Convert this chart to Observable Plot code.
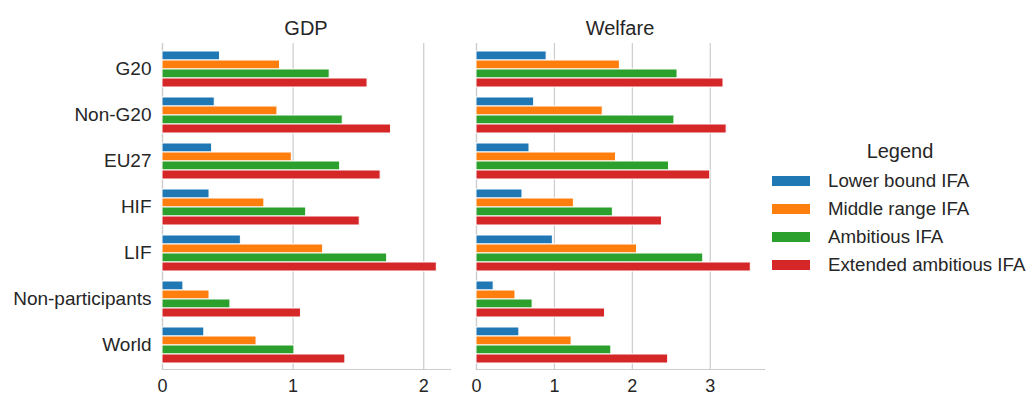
<!DOCTYPE html>
<html>
<head>
<meta charset="utf-8">
<script src="https://cdn.jsdelivr.net/npm/d3@7"></script>
<script src="https://cdn.jsdelivr.net/npm/@observablehq/plot@0.6"></script>
<style>
  html, body { margin: 0; padding: 0; background: #fff; }
  #wrap { position: relative; width: 1030px; height: 395px; font-family: "Liberation Sans", Arial, sans-serif; color: #262626; overflow: hidden; }
  .layer { position: absolute; top: 0; }
  .title { position: absolute; top: 18px; font-size: 20px; line-height: 20px; text-align: center; color: #262626; }
  #legendTitle { position: absolute; left: 770px; width: 260px; top: 141px; font-size: 20px; line-height: 20px; text-align: center; }
  #legendRows { position: absolute; left: 772px; top: 167px; display: flex; flex-direction: column; }
  .row { height: 28px; display: flex; align-items: center; font-size: 18.7px; line-height: 28px; }
  .sw { width: 38px; height: 10px; margin-right: 18px; }
</style>
</head>
<body>
<div id="wrap"></div>
<script>
const categories = ["G20", "Non-G20", "EU27", "HIF", "LIF", "Non-participants", "World"];
const series = ["Lower bound IFA", "Middle range IFA", "Ambitious IFA", "Extended ambitious IFA"];
const colors = ["#1f77b4", "#ff7f0e", "#2ca02c", "#d62728"];
const panels = ["GDP", "Welfare"];

const gdpLower     = [0.44, 0.40, 0.38, 0.36, 0.60, 0.16, 0.32];
const gdpMiddle    = [0.90, 0.88, 0.99, 0.78, 1.23, 0.36, 0.72];
const gdpAmbitious = [1.28, 1.38, 1.36, 1.10, 1.72, 0.52, 1.01];
const gdpExtended  = [1.57, 1.75, 1.67, 1.51, 2.10, 1.06, 1.40];

const welLower     = [0.90, 0.74, 0.68, 0.59, 0.98, 0.22, 0.55];
const welMiddle    = [1.84, 1.62, 1.79, 1.25, 2.06, 0.50, 1.22];
const welAmbitious = [2.58, 2.54, 2.47, 1.75, 2.91, 0.72, 1.73];
const welExtended  = [3.17, 3.21, 3.00, 2.38, 3.52, 1.65, 2.46];

const gdpTicks = [0, 1, 2];
const welTicks = [0, 1, 2, 3];

function rowsOf(lists) {
  const out = [];
  categories.forEach((c, i) => {
    series.forEach((s, j) => out.push({category: c, series: s, value: lists[j][i]}));
  });
  return out;
}

const gdpRows = rowsOf([gdpLower, gdpMiddle, gdpAmbitious, gdpExtended]);
const welRows = rowsOf([welLower, welMiddle, welAmbitious, welExtended]);

const wrap = document.getElementById("wrap");
const H = 395, MT = 43, MB = 26;
const gray = "#cccccc";

function panel(rows, ticks, opts) {
  const xmax = d3.max(rows, d => d.value) * 1.05;
  const holder = document.createElement("div");
  holder.className = "layer";
  holder.style.left = opts.left + "px";
  holder.style.width = opts.width + "px";
  holder.style.height = H + "px";
  wrap.appendChild(holder);

  const common = {
    width: opts.width, height: H,
    marginLeft: opts.ml, marginRight: opts.mr, marginTop: MT, marginBottom: MB,
    style: {background: "transparent", color: "#262626", fontFamily: "'Liberation Sans', Arial, sans-serif", overflow: "visible"}
  };

  const bgMarks = [
    Plot.gridX(ticks, {stroke: gray, strokeOpacity: 1, strokeWidth: 1.2}),
    Plot.frame({anchor: "bottom", stroke: gray, strokeWidth: 1.2}),
    Plot.frame({anchor: "left", stroke: gray, strokeWidth: 1.2}),
    Plot.axisX({ticks, tickSize: 0, tickPadding: 10, fontSize: 18, label: null, tickFormat: d => String(d)})
  ];
  if (opts.yLabels) bgMarks.push(Plot.axisY({tickSize: 0, tickPadding: 11, fontSize: 19, label: null}));
  else bgMarks.push(Plot.axisY({ticks: [], label: null}));

  const bg = Plot.plot({
    ...common,
    x: {domain: [0, xmax]},
    y: {domain: categories, paddingInner: 0.2, paddingOuter: 0.1},
    marks: bgMarks
  });
  bg.style.position = "absolute"; bg.style.left = "0px"; bg.style.top = "0px";
  holder.appendChild(bg);

  const fg = Plot.plot({
    ...common,
    x: {domain: [0, xmax], axis: null},
    fy: {domain: categories, paddingInner: 0.2, paddingOuter: 0.1, axis: null, label: null},
    y: {domain: series, padding: 0, axis: null},
    color: {domain: series, range: colors},
    marks: [
      Plot.barX(rows, {x: "value", y: "series", fy: "category", fill: "series", stroke: "white", strokeWidth: 1})
    ]
  });
  fg.style.position = "absolute"; fg.style.left = "0px"; fg.style.top = "0px";
  holder.appendChild(fg);

  const t = document.createElement("div");
  t.className = "title";
  t.textContent = opts.title;
  t.style.left = (opts.left + opts.ml) + "px";
  t.style.width = (opts.width - opts.ml - opts.mr) + "px";
  wrap.appendChild(t);
}

panel(gdpRows, gdpTicks, {left: 0, width: 460, ml: 162, mr: 10, yLabels: true, title: panels[0]});
panel(welRows, welTicks, {left: 460, width: 310, ml: 16, mr: 6, yLabels: false, title: panels[1]});

// Legend
const lt = document.createElement("div");
lt.id = "legendTitle";
lt.textContent = "Legend";
wrap.appendChild(lt);
const lr = document.createElement("div");
lr.id = "legendRows";
series.forEach((s, i) => {
  const r = document.createElement("div");
  r.className = "row";
  const sw = document.createElement("div");
  sw.className = "sw";
  sw.style.background = colors[i];
  const tx = document.createElement("span");
  tx.textContent = s;
  r.appendChild(sw); r.appendChild(tx);
  lr.appendChild(r);
});
wrap.appendChild(lr);
</script>
</body>
</html>
